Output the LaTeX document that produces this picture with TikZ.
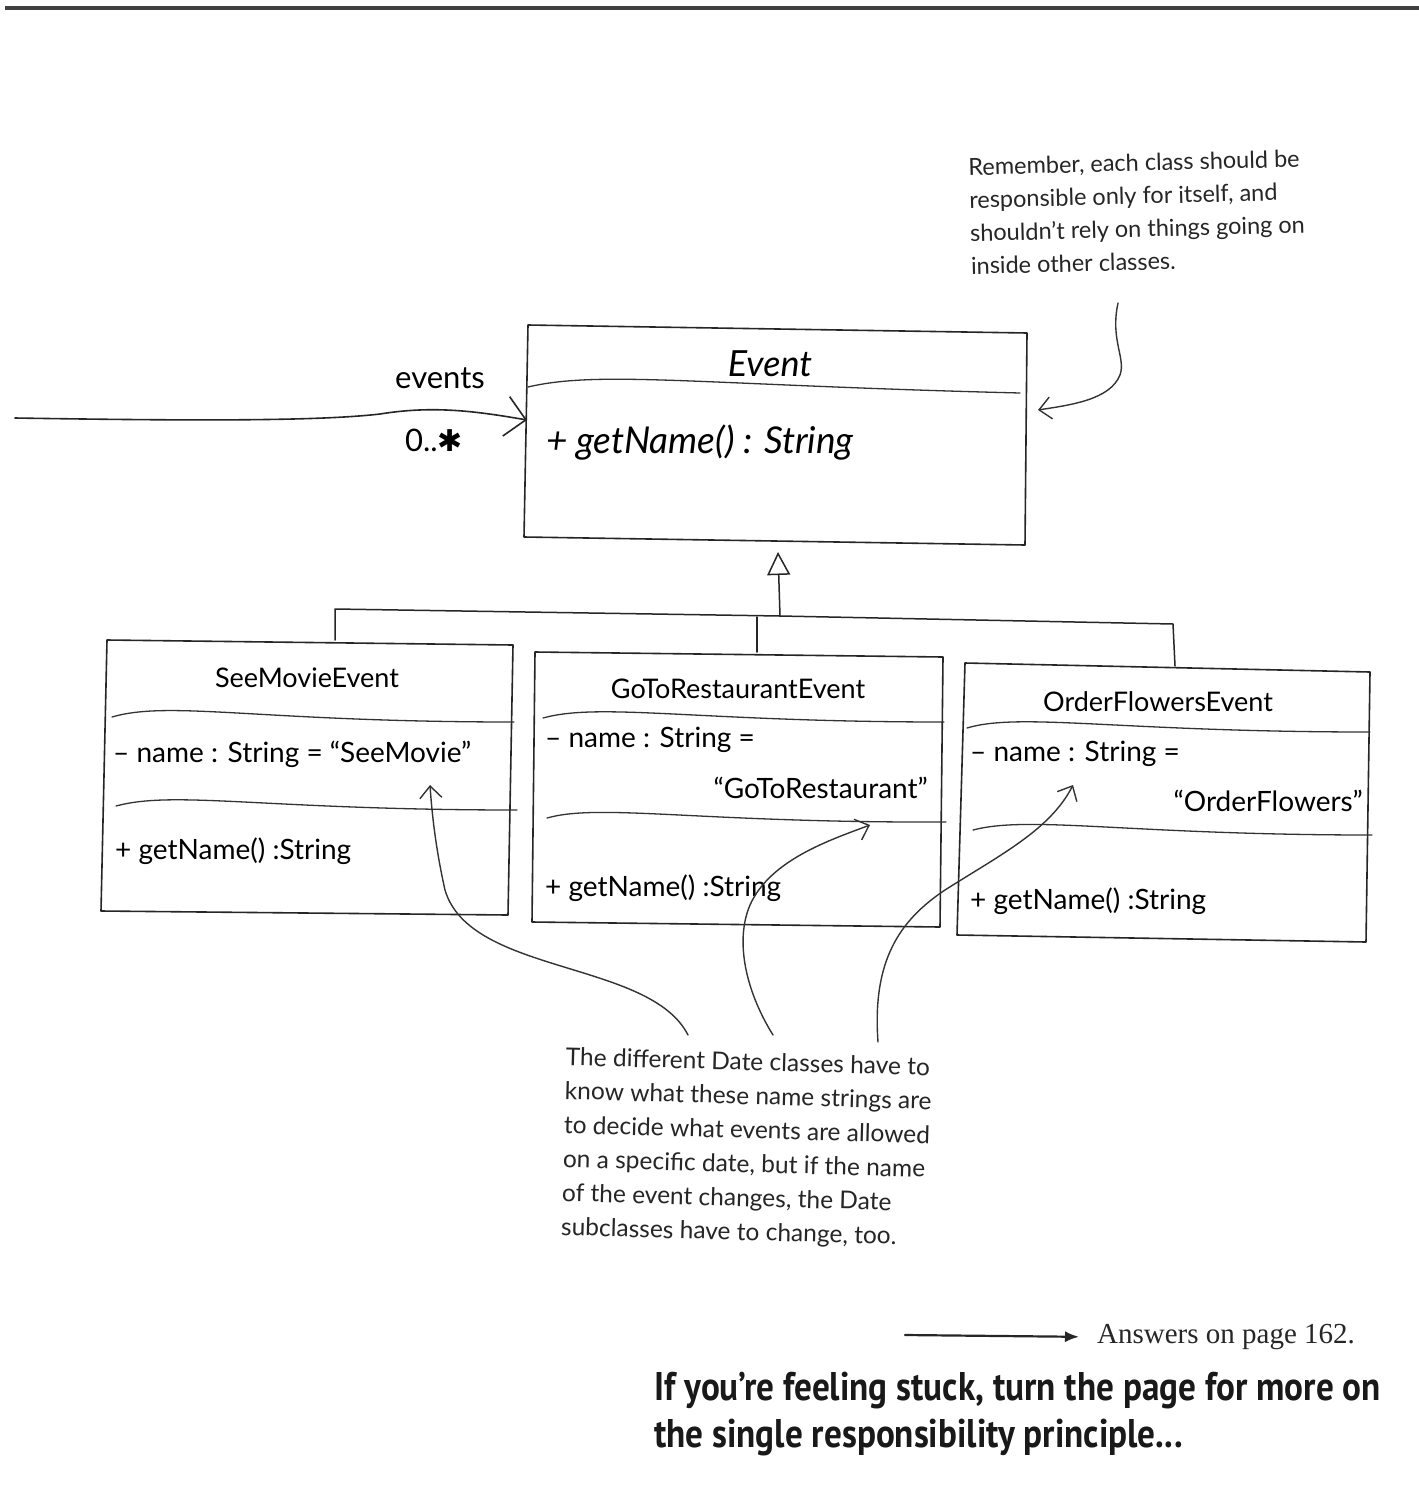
\documentclass[tikz,border=0pt]{standalone}
\usepackage{fontspec}
\setmainfont{Lato}
\newfontfamily\answerfont{Liberation Serif}
\newfontfamily\headfont[FakeStretch=0.88]{PT Sans}
\newfontfamily\symfont{DejaVu Sans}
\usetikzlibrary{arrows.meta}
\tikzset{
  ink/.style={draw=black!85, line width=1.6pt},
  divider/.style={draw=black!80, line width=1.3pt},
  pointer/.style={draw=black!80, line width=1.4pt, -{Straight Barb[length=12pt,width=22pt,line width=1.4pt]}},
  clstitle/.style={font=\fontsize{27}{32}\selectfont, inner sep=0pt},
  member/.style={font=\fontsize{28}{33}\selectfont, inner sep=0pt, anchor=base west},
  memberR/.style={font=\fontsize{28}{33}\selectfont, inner sep=0pt, anchor=base east},
  notetext/.style={font=\fontsize{23.5}{33}\selectfont, align=left, inner sep=0pt, text=black!85},
}
\begin{document}
\begin{tikzpicture}[x=1pt,y=-1pt, line join=round, line cap=round]
\useasboundingbox (0,0) rectangle (1419,1494);
\fill[white] (0,0) rectangle (1419,1494);

% top rule
\coordinate (rulel) at (5,8);
\coordinate (ruler) at (1419,8);
\draw[line width=4pt, black!75, line cap=butt] (rulel) -- (ruler);

% ---------- Event class ----------
\draw[ink] (528,325) -- (1027,333) -- (1025,545) -- (524,537) -- cycle;
\draw[divider] (528,387) .. controls (600,370) and (700,385) .. (1020,393);
\node[clstitle, font=\fontsize{36}{40}\selectfont\itshape] (evtitle) at (770,364) {Event};
\node[member, font=\fontsize{37}{40}\selectfont\itshape] (evmethod) at (546,453) {+ getName() : String};
\coordinate (evleft) at (527,420);
\coordinate (evapex) at (778,552);
\coordinate (evright) at (1038,410);

% incoming association
\coordinate (lstart) at (15,418);
\draw[draw=black!85, line width=1.6pt, -{Straight Barb[length=20pt,width=40pt,line width=1.6pt]}]
  (lstart) .. controls (200,421) and (320,421) .. (380,414)
  .. controls (430,406) and (470,410) .. (evleft);
\node[font=\fontsize{31}{36}\selectfont, inner sep=0pt] (evlabel) at (440,378) {events};
\node[font=\fontsize{31}{36}\selectfont, inner sep=0pt] (evmult) at (434,440) {0..{\symfont\fontsize{30}{30}\selectfont ✱}};

% ---------- generalization tree ----------
\coordinate (gjoin) at (780,616);
\coordinate (seetop) at (335,640);
\coordinate (gotop) at (757,652);
\coordinate (ordtop) at (1175,666);
\draw[draw=black!85, line width=1.5pt, -{Triangle[open,length=23pt,width=23pt,line width=1.5pt]}] (gjoin) -- (evapex);
\draw[draw=black!85, line width=1.5pt] (seetop) -- (335,609) -- (gjoin) -- (1173,624) -- (ordtop);
\draw[draw=black!85, line width=1.5pt] (gotop) -- (757,617);

% ---------- SeeMovieEvent ----------
\draw[ink] (107,640) -- (513,645) -- (508,915) -- (101,911) -- cycle;
\draw[divider] (112,717) .. controls (170,700) and (260,722) .. (514,722);
\draw[divider] (116,806) .. controls (175,790) and (265,810) .. (517,810);
\node[clstitle] (seetitle) at (307,678) {SeeMovieEvent};
\node[member] (seeattr) at (113,762) {– name : String = “SeeMovie”};
\node[member] (seemethod) at (115,859) {+ getName() :String};
\coordinate (seetarget) at (430,785);

% ---------- GoToRestaurantEvent ----------
\draw[ink] (535,652) -- (943,657) -- (940,927) -- (532,922) -- cycle;
\draw[divider] (543,718) .. controls (600,702) and (700,722) .. (944,722);
\draw[divider] (547,818) .. controls (600,803) and (700,823) .. (946,822);
\node[clstitle] (gotitle) at (738,689) {GoToRestaurantEvent};
\node[member] (goattra) at (545,747) {– name : String =};
\node[memberR] (goattrb) at (928,798) {“GoToRestaurant”};
\node[member] (gomethod) at (545,896) {+ getName() :String};
\coordinate (gotarget) at (870,825);

% ---------- OrderFlowersEvent ----------
\draw[ink] (965,663) -- (1370,672) -- (1366,942) -- (957,935) -- cycle;
\draw[divider] (967,728) .. controls (1020,712) and (1120,732) .. (1370,732);
\draw[divider] (973,830) .. controls (1030,815) and (1130,835) .. (1372,835);
\node[clstitle] (ordtitle) at (1158,702) {OrderFlowersEvent};
\node[member] (ordattra) at (970,761) {– name : String =};
\node[memberR] (ordattrb) at (1363,811) {“OrderFlowers”};
\node[member] (ordmethod) at (970,909) {+ getName() :String};
\coordinate (ordtarget) at (1073,785);

% ---------- top-right note ----------
\node[notetext, anchor=north west, rotate=1.5] (note1) at (968,158)
  {Remember, each class should be\\responsible only for itself, and\\shouldn’t rely on things going on\\inside other classes.};
\coordinate (note1tail) at (1118,303);
\draw[pointer] (note1tail) .. controls (1110,340) and (1126,358) .. (1120,375)
  .. controls (1110,400) and (1070,405) .. (evright);

% ---------- bottom note ----------
\node[notetext, font=\fontsize{24.5}{34}\selectfont, anchor=north west, rotate=-1.6] (note2) at (566,1047)
  {The different Date classes have to\\know what these name strings are\\to decide what events are allowed\\on a specific date, but if the name\\of the event changes, the Date\\subclasses have to change, too.};
\coordinate (tailsee) at (688,1035);
\coordinate (tailgo) at (773,1035);
\coordinate (tailord) at (878,1042);
\draw[pointer] (tailsee) .. controls (650,960) and (470,975) .. (445,890)
  .. controls (436,850) and (432,815) .. (seetarget);
\draw[pointer] (tailgo) .. controls (745,990) and (735,940) .. (750,905)
  .. controls (770,860) and (830,840) .. (gotarget);
\draw[pointer] (tailord) .. controls (872,960) and (900,920) .. (945,890)
  .. controls (1000,855) and (1050,830) .. (ordtarget);

% ---------- footer ----------
\node[font=\answerfont\fontsize{29}{34}\selectfont, anchor=west, inner sep=0pt, text=black!85] (answers) at (1097,1337) {Answers on page 162.};
\coordinate (ansstart) at (905,1335);
\draw[draw=black!85, line width=2.2pt, -{Latex[length=14pt,width=11pt]}, shorten >=18pt] (ansstart) -- (answers.west);
\node[font=\headfont\bfseries\fontsize{40}{47}\selectfont, anchor=north west, align=left, inner sep=0pt, text=black!90] (stuck) at (654,1372)
  {If you’re feeling stuck, turn the page for more on\\the single responsibility principle...};
\end{tikzpicture}
\end{document}
